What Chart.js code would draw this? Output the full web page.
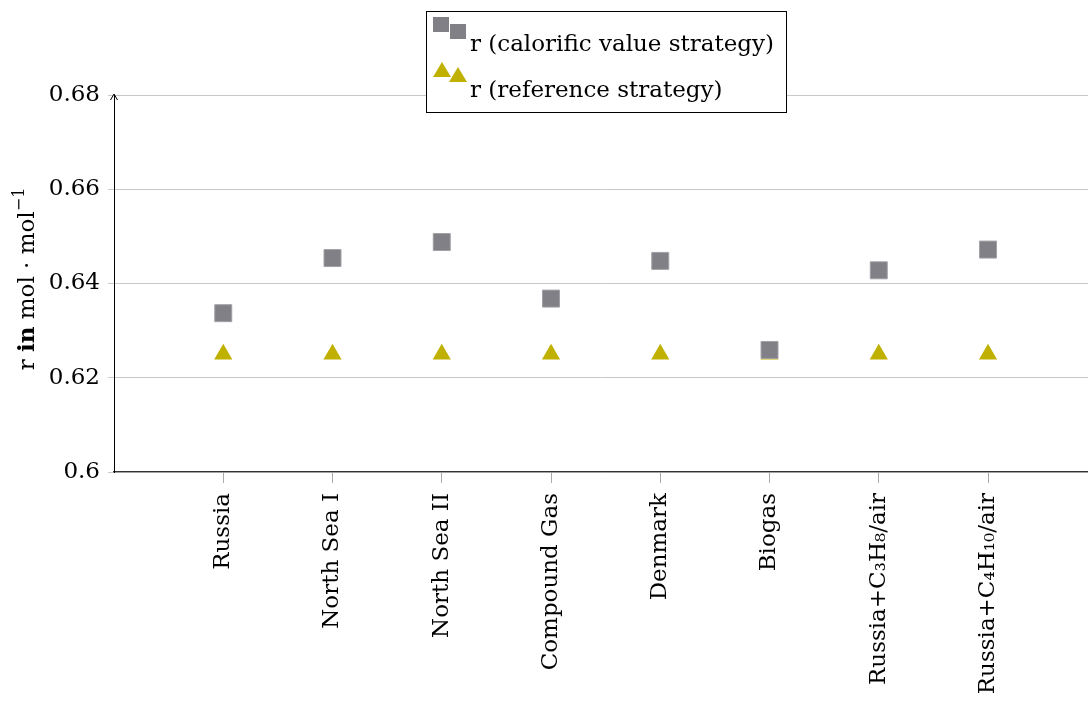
<!DOCTYPE html>
<html>
<head>
<meta charset="utf-8">
<script src="https://cdn.jsdelivr.net/npm/chart.js@4"></script>
<style>
  html, body { margin: 0; padding: 0; background: #fff; overflow: hidden; }
  #wrap { width: 1088px; height: 707px; overflow: hidden; }
</style>
</head>
<body>
<div id="wrap"><canvas id="chart" width="1101" height="707"></canvas></div>
<script>
// gas mixtures along the x axis
const categories = ['Russia', 'North Sea I', 'North Sea II', 'Compound Gas', 'Denmark', 'Biogas', 'Russia+C₃H₈/air', 'Russia+C₄H₁₀/air'];
// r (calorific value strategy)
const calorificValues = [0.6337, 0.6454, 0.6488, 0.6368, 0.6448, 0.6259, 0.6428, 0.6472];
// r (reference strategy)
const referenceValues = [0.625, 0.625, 0.625, 0.625, 0.625, 0.625, 0.625, 0.625];
const yTicks = [0.6, 0.62, 0.64, 0.66, 0.68];
const seriesNames = ['r (calorific value strategy)', 'r (reference strategy)'];

const FONT = '"DejaVu Serif", "Liberation Serif", serif';
const FS = 23;
const GRAY = 'rgb(128,128,134)';
const OLIVE = 'rgb(192,176,0)';

const toPoints = vals => vals.map((v, i) => ({ x: i + 1, y: v }));

// y axis title with bold "in" and a superscript
const yTitle = {
  id: 'yTitle',
  afterDraw(chart) {
    const ctx = chart.ctx;
    const parts = [
      { t: 'r ', f: FS + 'px ' + FONT, dy: 0 },
      { t: 'in', f: 'bold ' + FS + 'px ' + FONT, dy: 0 },
      { t: ' mol · mol', f: FS + 'px ' + FONT, dy: 0 },
      { t: '−1', f: '16px ' + FONT, dy: -10 }
    ];
    ctx.save();
    let total = 0;
    parts.forEach(p => { ctx.font = p.f; p.w = ctx.measureText(p.t).width; total += p.w; });
    ctx.translate(34, 279);
    ctx.rotate(-Math.PI / 2);
    ctx.fillStyle = '#000';
    ctx.textBaseline = 'alphabetic';
    let x = -total / 2;
    parts.forEach(p => { ctx.font = p.f; ctx.fillText(p.t, x, p.dy); x += p.w; });
    ctx.restore();
  }
};

// arrow head on the y axis and the boxed legend
const extras = {
  id: 'extras',
  afterDraw(chart) {
    const ctx = chart.ctx;
    const area = chart.chartArea;
    ctx.save();
    // arrow
    ctx.strokeStyle = '#000';
    ctx.lineWidth = 1;
    ctx.beginPath();
    ctx.moveTo(area.left - 3.5, area.top + 5);
    ctx.lineTo(area.left, area.top - 1);
    ctx.lineTo(area.left + 3.5, area.top + 5);
    ctx.stroke();

    // legend box
    const bx = 426.5, by = 11.5, bw = 360, bh = 101;
    ctx.fillStyle = '#fff';
    ctx.fillRect(bx, by, bw, bh);
    ctx.strokeStyle = '#000';
    ctx.strokeRect(bx, by, bw, bh);

    // squares
    ctx.fillStyle = GRAY;
    ctx.fillRect(433, 17, 16, 15);
    ctx.fillRect(450, 24, 16, 15);
    // triangles
    const tri = (cx, top, h, w) => {
      ctx.beginPath();
      ctx.moveTo(cx, top);
      ctx.lineTo(cx + w / 2, top + h);
      ctx.lineTo(cx - w / 2, top + h);
      ctx.closePath();
      ctx.fill();
    };
    ctx.fillStyle = OLIVE;
    tri(442, 62, 15, 18);
    tri(458, 67, 15, 18);

    ctx.fillStyle = '#000';
    ctx.font = FS + 'px ' + FONT;
    ctx.textBaseline = 'alphabetic';
    ctx.fillText(seriesNames[0], 470, 51);
    ctx.fillText(seriesNames[1], 470, 97);
    ctx.restore();
  }
};

new Chart(document.getElementById('chart'), {
  type: 'scatter',
  data: {
    datasets: [
      {
        label: seriesNames[0],
        data: toPoints(calorificValues),
        pointStyle: 'rect',
        pointRadius: 12,
        backgroundColor: GRAY,
        borderColor: 'rgb(160,160,166)',
        borderWidth: 1
      },
      {
        label: seriesNames[1],
        data: toPoints(referenceValues),
        pointStyle: 'triangle',
        pointRadius: 10.5,
        backgroundColor: OLIVE,
        borderColor: OLIVE,
        borderWidth: 0
      }
    ]
  },
  options: {
    responsive: false,
    animation: false,
    layout: { padding: { top: 95, right: 0, left: 0, bottom: 0 } },
    plugins: {
      legend: { display: false },
      tooltip: { enabled: false }
    },
    scales: {
      x: {
        type: 'linear',
        min: 0,
        max: 8.915,
        afterBuildTicks: scale => { scale.ticks = categories.map((c, i) => ({ value: i + 1 })); },
        afterFit: scale => { scale.height = 235; },
        grid: { drawOnChartArea: false, drawTicks: true, tickLength: 11, color: '#aaa' },
        border: { display: true, color: '#333', width: 1.2 },
        ticks: {
          minRotation: 90,
          maxRotation: 90,
          padding: 10,
          color: '#000',
          font: { family: FONT, size: FS },
          callback: v => categories[v - 1]
        }
      },
      y: {
        min: 0.6,
        max: 0.68,
        afterBuildTicks: scale => { scale.ticks = yTicks.map(v => ({ value: v })); },
        afterFit: scale => { scale.width = 114; },
        grid: { color: '#c8c8c8', tickLength: 6 },
        border: { display: true, color: '#000', width: 1 },
        ticks: {
          padding: 8,
          color: '#000',
          font: { family: FONT, size: FS },
          callback: v => String(+v.toFixed(2))
        }
      }
    }
  },
  plugins: [yTitle, extras]
});
</script>
</body>
</html>
